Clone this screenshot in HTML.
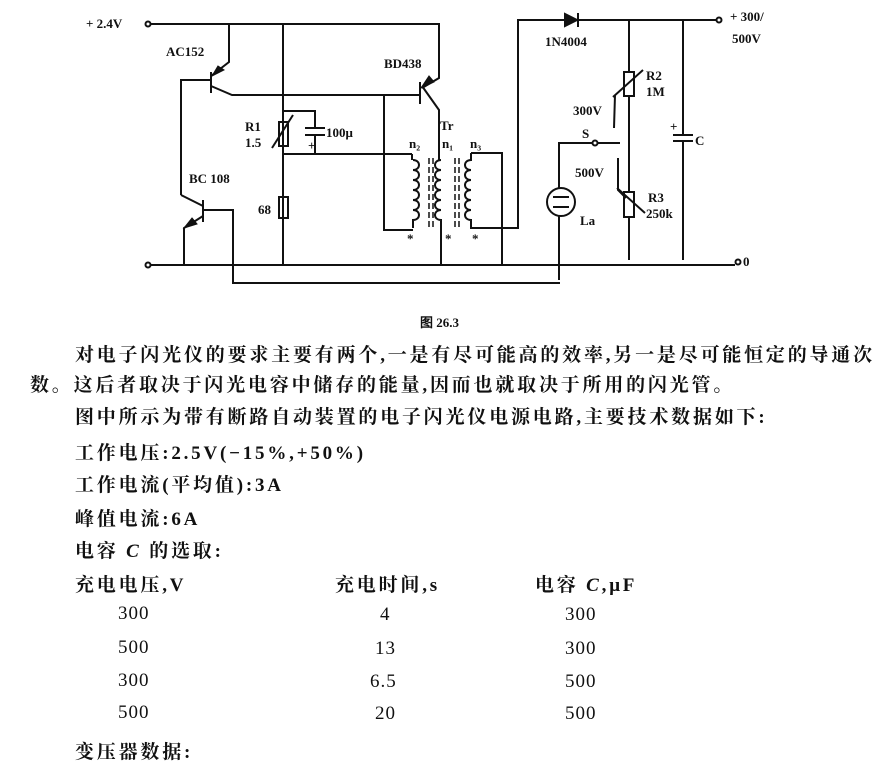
<!DOCTYPE html>
<html><head><meta charset="utf-8"><style>
body{margin:0;width:896px;height:769px;background:#fff;overflow:hidden;position:relative;font-family:"Liberation Serif","Noto Serif CJK SC","Noto Sans CJK SC",serif;color:#111}
.t{position:absolute;font-size:19px;white-space:nowrap;letter-spacing:2.8px;font-weight:bold}
.n{letter-spacing:1px;font-weight:normal}
svg{position:absolute;left:0;top:0}
svg text{font-family:"Liberation Serif",serif;font-weight:bold;font-size:13px;fill:#111}
</style></head><body>
<svg width="896" height="340" stroke="#111" stroke-width="2" fill="none">
<text x="86" y="28" stroke="none">+ 2.4V</text>
<circle cx="148" cy="24" r="2.5" fill="#fff"/>
<path d="M151 24H439V78L422 88"/>
<path d="M229 24V62L211 76M211 86L232 95H420"/>
<path d="M211 72V93M420 82V104"/>
<path d="M218 66L224 70L212 76Z M429 76L434 82L421 88Z M192 218L197 224L184 228Z" fill="#111" stroke-width="1"/>
<path d="M181 195V80H211"/>
<path d="M203 200V222M203 206L181 195M203 216L184 228V265M203 210H233V283H560"/>
<path d="M283 24V265M283 111H315V128M315 136V154M283 154H412"/>
<path d="M305 128H325M305 135H325"/>
<rect x="279" y="122" width="9" height="24"/><path d="M272 148L293 115"/>
<rect x="279" y="197" width="9" height="21"/>
<path d="M384 95V230H413M412 154V160M422 86L439 110V160"/>
<path d="M413 160c8 0 8 10 0 10c8 0 8 10 0 10c8 0 8 10 0 10c8 0 8 10 0 10c8 0 8 10 0 10c8 0 8 10 0 10v8"/>
<path d="M441 160c-8 0-8 10 0 10c-8 0-8 10 0 10c-8 0-8 10 0 10c-8 0-8 10 0 10c-8 0-8 10 0 10c-8 0-8 10 0 10V265"/>
<path d="M471 153V160c-8 0-8 10 0 10c-8 0-8 10 0 10c-8 0-8 10 0 10c-8 0-8 10 0 10c-8 0-8 10 0 10c-8 0-8 10 0 10v8H518V20H565M471 153H502V265"/>
<path d="M429 158V230M433 158V230M455 158V230M459 158V230" stroke-dasharray="6 3" stroke-width="1.5"/>
<path d="M150 265H735"/><circle cx="148" cy="265" r="2.5" fill="#fff"/><circle cx="738" cy="262" r="2.5" fill="#fff"/>
<path d="M565 14V26L577 20Z" fill="#111"/><path d="M578 13V27M578 20H716"/><circle cx="719" cy="20" r="2.5" fill="#fff"/>
<path d="M629 20V260M683 20V135M683 141V260"/>
<rect x="624" y="72" width="10" height="24" fill="#fff"/><path d="M613 97L643 70"/>
<rect x="624" y="192" width="10" height="25" fill="#fff"/><path d="M617 188L645 213"/>
<path d="M673 135H693M673 141H693"/>
<path d="M615 95L614 128M618 158V190L626 198"/>
<path d="M559 188V143H593M598 143H620"/><circle cx="595" cy="143" r="2.5" fill="#fff"/>
<circle cx="561" cy="202" r="14"/><path d="M553 197H569M553 207H569M559 216V280"/>
<text x="166" y="56" stroke="none">AC152</text><text x="384" y="68" stroke="none">BD438</text>
<text x="245" y="131" stroke="none">R1</text><text x="245" y="147" stroke="none">1.5</text>
<text x="326" y="137" stroke="none">100μ</text><text x="189" y="183" stroke="none">BC 108</text>
<text x="258" y="214" stroke="none">68</text><text x="440" y="130" stroke="none">Tr</text>
<text x="409" y="148" stroke="none" font-size="10">n₂</text><text x="442" y="148" stroke="none" font-size="10">n₁</text><text x="470" y="148" stroke="none" font-size="10">n₃</text>
<text x="407" y="243" stroke="none">*</text><text x="445" y="243" stroke="none">*</text><text x="472" y="243" stroke="none">*</text>
<text x="545" y="46" stroke="none">1N4004</text><text x="730" y="21" stroke="none">+ 300/</text><text x="732" y="43" stroke="none">500V</text>
<text x="646" y="80" stroke="none">R2</text><text x="646" y="96" stroke="none">1M</text>
<text x="573" y="115" stroke="none">300V</text><text x="582" y="138" stroke="none">S</text><text x="575" y="177" stroke="none">500V</text>
<text x="648" y="202" stroke="none">R3</text><text x="646" y="218" stroke="none">250k</text>
<text x="580" y="225" stroke="none">La</text><text x="670" y="131" stroke="none">+</text><text x="308" y="150" stroke="none">+</text>
<text x="695" y="145" stroke="none">C</text><text x="743" y="266" stroke="none">0</text>
<text x="420" y="327" stroke="none" font-weight="normal" font-size="14">图 26.3</text>
</svg>
<div class="t" style="left:75px;top:340px">对电子闪光仪的要求主要有两个,一是有尽可能高的效率,另一是尽可能恒定的导通次</div>
<div class="t" style="left:30px;top:370px">数。这后者取决于闪光电容中储存的能量,因而也就取决于所用的闪光管。</div>
<div class="t" style="left:75px;top:402px">图中所示为带有断路自动装置的电子闪光仪电源电路,主要技术数据如下:</div>
<div class="t" style="left:75px;top:438px">工作电压:2.5V(−15%,+50%)</div>
<div class="t" style="left:75px;top:470px">工作电流(平均值):3A</div>
<div class="t" style="left:75px;top:504px">峰值电流:6A</div>
<div class="t" style="left:75px;top:536px">电容 <i>C</i> 的选取:</div>
<div class="t" style="left:75px;top:570px">充电电压,V</div><div class="t" style="left:335px;top:570px">充电时间,s</div><div class="t" style="left:535px;top:570px">电容 <i>C</i>,μF</div>
<div class="t n" style="left:118px;top:603px">300</div><div class="t n" style="left:380px;top:604px">4</div><div class="t n" style="left:565px;top:604px">300</div>
<div class="t n" style="left:118px;top:637px">500</div><div class="t n" style="left:375px;top:638px">13</div><div class="t n" style="left:565px;top:638px">300</div>
<div class="t n" style="left:118px;top:670px">300</div><div class="t n" style="left:370px;top:671px">6.5</div><div class="t n" style="left:565px;top:671px">500</div>
<div class="t n" style="left:118px;top:702px">500</div><div class="t n" style="left:375px;top:703px">20</div><div class="t n" style="left:565px;top:703px">500</div>
<div class="t" style="left:75px;top:737px">变压器数据:</div>
</body></html>
